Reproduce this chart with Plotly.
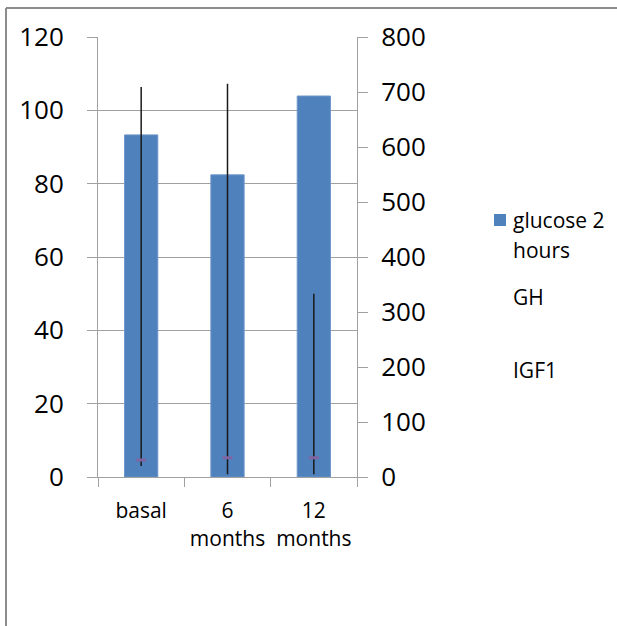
import plotly.graph_objects as go

categories = ["basal", "6<br>months", "12<br>months"]
glucose_2h = [93.3, 82.4, 103.9]
gh_values = [31, 35, 35]
gh_err_plus = [678, 680, 298]
gh_err_minus = [11, 30, 30]
left_ticks = [0, 20, 40, 60, 80, 100, 120]
right_ticks = [0, 100, 200, 300, 400, 500, 600, 700, 800]

FONT = "Open Sans"
GRID = "#a0a0a0"

fig = go.Figure()
fig.add_trace(go.Bar(
    x=categories, y=glucose_2h, name="glucose 2 hours",
    marker=dict(color="#4F81BD", line=dict(color="#6b95c8", width=1)),
    showlegend=False, yaxis="y",
))
fig.add_trace(go.Scatter(
    x=categories, y=gh_values, name="GH", mode="markers",
    marker=dict(symbol="line-ew", size=7, line=dict(color="#8064A2", width=3), color="#8064A2"),
    error_y=dict(type="data", array=gh_err_plus, arrayminus=gh_err_minus,
                 color="#1a1a1a", thickness=1.5, width=0, symmetric=False),
    showlegend=False, yaxis="y2",
))

fig.update_layout(
    width=617, height=626,
    margin=dict(l=98, r=260, t=37, b=149),
    paper_bgcolor="white", plot_bgcolor="white",
    font=dict(family=FONT, color="black"),
    bargap=0.615,
    showlegend=False,
    xaxis=dict(
        type="category", showline=True, linecolor=GRID, linewidth=1,
        ticks="outside", tickson="boundaries", ticklen=9, tickcolor=GRID,
        tickfont=dict(size=21, family=FONT), showgrid=False,
        ticklabelstandoff=15,
    ),
    yaxis=dict(
        range=[0, 120], tickvals=left_ticks, showgrid=True, gridcolor=GRID, gridwidth=1,
        showline=True, linecolor=GRID, linewidth=1, ticks="outside", ticklen=10,
        tickcolor=GRID, tickfont=dict(size=26, family=FONT), zeroline=False,
        ticklabelstandoff=18,
    ),
    yaxis2=dict(
        range=[0, 800], tickvals=right_ticks, overlaying="y", side="right",
        showgrid=False, showline=True, linecolor=GRID, linewidth=1,
        ticks="outside", ticklen=10, tickcolor=GRID,
        tickfont=dict(size=26, family=FONT), zeroline=False,
        ticklabelstandoff=8,
    ),
)

W = 259.0
H = 440.0
def px(x):
    return (x - 98) / W
def py(y):
    return (477 - y) / H

shapes = [
    dict(type="line", xref="paper", yref="paper", x0=px(6), x1=px(640), y0=py(8), y1=py(8),
         line=dict(color="#8c8c8c", width=2)),
    dict(type="line", xref="paper", yref="paper", x0=px(6), x1=px(6), y0=py(8), y1=py(640),
         line=dict(color="#8c8c8c", width=2)),
    dict(type="rect", xref="paper", yref="paper", x0=px(494), x1=px(506), y0=py(226), y1=py(214),
         fillcolor="#4F81BD", line=dict(width=0)),
]
fig.update_layout(shapes=shapes)

legend_texts = [("glucose 2", 220), ("hours", 250), ("GH", 297), ("IGF1", 370)]
for t, yy in legend_texts:
    fig.add_annotation(text=t, xref="paper", yref="paper", x=px(511), y=py(yy),
                       xanchor="left", yanchor="middle", showarrow=False,
                       font=dict(size=21, family=FONT, color="black"))

fig.write_html("out.html",
               config={"displayModeBar": False},
               post_script="document.body.style.margin='0';document.body.style.overflow='hidden';")
